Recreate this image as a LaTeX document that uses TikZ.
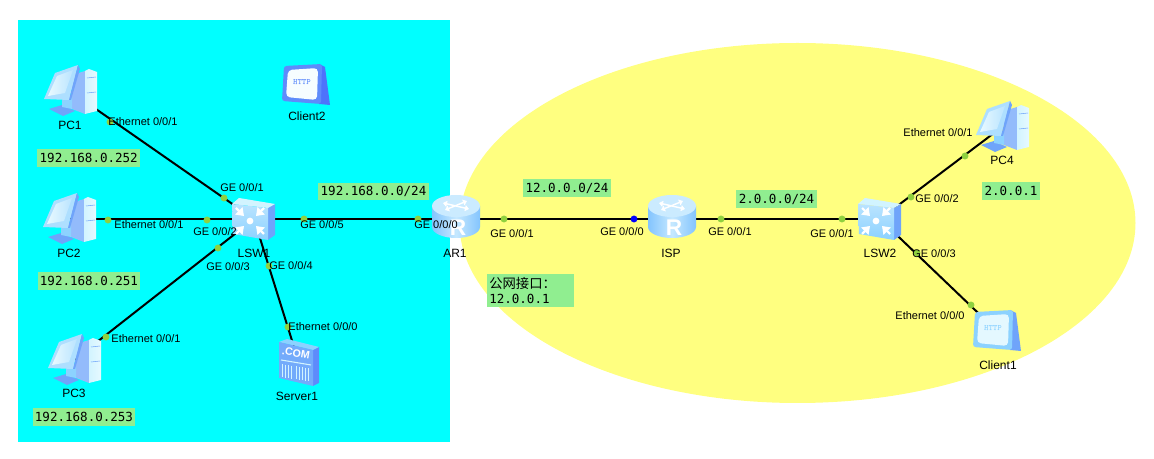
\documentclass[tikz,border=0pt]{standalone}
\usepackage{fontspec}
\setmainfont{Liberation Sans}
\newfontfamily\notefont{DejaVu Sans Mono}
\newfontfamily\cjkfont{Noto Sans CJK SC}
\usepackage{xcolor}
\usetikzlibrary{arrows.meta, positioning, calc, shapes}

\definecolor{lanblue}{HTML}{00FFFF}
\definecolor{wanyellow}{HTML}{FFFF80}
\definecolor{notegreen}{HTML}{90EE90}
\definecolor{portgreen}{HTML}{8FD13F}
\definecolor{iconlight}{HTML}{D2F4FF}
\definecolor{iconmid}{HTML}{8CD2FF}
\definecolor{icondark}{HTML}{6FA4FA}

\tikzset{
	device/.style={inner sep=0pt, minimum size=1pt},
	link/.style={line width=1.5pt, black},
	port/.style={circle, fill=portgreen, inner sep=0pt, minimum size=5.2pt},
	portblue/.style={circle, fill=blue, inner sep=0pt, minimum size=5.2pt},
	lbl/.style={inner sep=0pt, font=\fontsize{8.25}{10}\selectfont},
	namelbl/.style={inner sep=0pt, font=\fontsize{9}{11}\selectfont},
	note/.style={fill=notegreen, inner sep=0pt, font=\notefont\fontsize{9.4}{11}\selectfont},
	% Computer with tower
	pics/pcicon/.style={code={
		\fill[icondark!75!white] (2,-16) -- (15,-20) -- (15,23) -- (2,18) -- cycle;
		\shade[left color=iconlight, right color=iconlight!55!white] (15,-20) -- (19,-22) -- (27,-19) -- (27,20) -- (15,23) -- cycle;
		\draw[icondark, thin] (17,-13) -- (26,-14) (17,2) -- (26,1);
		\fill[icondark] (-21,18) -- (-8,14) -- (5,20) -- (-7,25) -- cycle;
		\fill[iconmid] (-8,6) -- (2,6) -- (2,18) -- (-8,16) -- cycle;
		\fill[iconmid!70!white] (-26,8) -- (-15,-18) -- (8,-26) -- (-1,9) -- cycle;
		\fill[icondark] (8,-26) -- (10,-22) -- (1,9) -- (-1,9) -- cycle;
		\shade[left color=iconlight!50!white, right color=iconmid!60!white] (-22,5) -- (-13,-15) -- (3,-21) -- (-5,2) -- cycle;
	}},
	% Switch with four arrows
	pics/switchicon/.style={code={
		\fill[icondark] (14,-11) -- (21,-15) -- (21,16) -- (14,21) -- cycle;
		\fill[iconlight] (-22,-15) -- (-15,-21) -- (21,-15) -- (14,-11) -- cycle;
		\shade[top color=iconmid!60!white, bottom color=iconmid] (-22,-15) -- (14,-11) -- (14,21) -- (-21,15) -- cycle;
		\foreach \sx/\sy in {-1/-1, 1/-1, -1/1, 1/1}
			\draw[white, line width=1.6pt, -{Triangle[length=5.5pt,width=7.5pt]}]
				({-4+\sx*14},{2+\sy*13}) -- ({-4+\sx*6},{2+\sy*5});
		\fill[white] (-4,2) circle [radius=3.4];
	}},
	% Router drum
	pics/routericon/.style={code={
		\shade[left color=iconmid!70!icondark, right color=iconmid!70!icondark, middle color=iconmid!50!white]
			(-24,-13) -- (-24,8) arc[start angle=180, end angle=0, x radius=24, y radius=11] -- (24,-13) -- cycle;
		\fill[iconmid!45!white] (0,-13) ellipse [x radius=24, y radius=11];
		\draw[white, line width=1.1pt, {Triangle[length=3pt,width=4.5pt]}-{Triangle[length=3pt,width=4.5pt]}] (-13,-16) -- (13,-10);
		\draw[white, line width=1.1pt, {Triangle[length=3pt,width=4.5pt]}-{Triangle[length=3pt,width=4.5pt]}] (-11,-9) -- (11,-18);
		\node[white, inner sep=0pt, font=\bfseries\fontsize{17}{17}\selectfont] at (2,9) {R};
	}},
	% Web client card: frame, face, side and text colour
	pics/clienticon/.style n args={4}{code={
		\fill[#3] (13,-21) -- (19,-18) -- (24,20) -- (13,19) -- cycle;
		\fill[#1, rounded corners=2pt] (-22,-19) -- (16,-21) -- (15,19) -- (-24,16) -- cycle;
		\fill[#2, rounded corners=3pt] (-18,-15) -- (12,-17) -- (11,15) -- (-20,12) -- cycle;
		\node[#4, inner sep=0pt, rotate=-2, font=\ttfamily\bfseries\fontsize{6.2}{6.2}\selectfont] at (-4,-3) {HTTP};
	}},
	% Web server box
	pics/servericon/.style={code={
		\fill[icondark!85!blue] (14,-13) -- (20,-16) -- (20,20) -- (14,23) -- cycle;
		\fill[iconmid] (-20,-21) -- (-12,-24) -- (20,-16) -- (14,-13) -- cycle;
		\fill[icondark!85!iconmid] (-20,-21) -- (14,-13) -- (14,23) -- (-20,15) -- cycle;
		\node[white, inner sep=0pt, rotate=-10, font=\bfseries\fontsize{8}{8}\selectfont] at (-3,-10) {.COM};
		\draw[iconlight, thick] (-18,-3) -- (12,2);
		\foreach \sx in {-17,-14,-11,-8,-3,0,3,6,9}
			\draw[iconlight, thin] (\sx,{1+(\sx+17)*0.17}) -- (\sx,{14+(\sx+17)*0.17});
	}},
}

\begin{document}
\begin{tikzpicture}[x=0.75pt, y=-0.75pt]
	\useasboundingbox (0,0) rectangle (1154,459);
	
	% Areas
	\fill[wanyellow] (797.5,223) ellipse [x radius=338, y radius=180];
	\fill[lanblue] (18,20) rectangle (450,442);
	
	% Devices
	\node[device] (PC1) at (70,91) {};
	\node[device] (PC2) at (69,219) {};
	\node[device] (PC3) at (74,360) {};
	\node[device] (PC4) at (1002,127) {};
	\node[device] (LSW1) at (254,219) {};
	\node[device] (LSW2) at (880,219) {};
	\node[device] (AR1) at (456,219) {};
	\node[device] (ISP) at (672,219) {};
	\node[device] (Server1) at (299,363) {};
	\node[device] (Client1) at (997,331) {};
	\node[device] (Client2) at (306,85) {};
	
	% Links
	\draw[link] (PC1) -- (LSW1);
	\draw[link] (PC2) -- (LSW1);
	\draw[link] (PC3) -- (LSW1);
	\draw[link] (Server1) -- (LSW1);
	\draw[link] (LSW1) -- (AR1);
	\draw[link] (AR1) -- (ISP);
	\draw[link] (ISP) -- (LSW2);
	\draw[link] (LSW2) -- (PC4);
	\draw[link] (LSW2) -- (Client1);
	
	% Icons
	\pic at (PC1) {pcicon};
	\pic at (PC2) {pcicon};
	\pic at (PC3) {pcicon};
	\pic at (PC4) {pcicon};
	\pic at (LSW1) {switchicon};
	\pic at (LSW2) {switchicon};
	\pic at (AR1) {routericon};
	\pic at (ISP) {routericon};
	\pic at (Server1) {servericon};
	\pic at (Client1) {clienticon={iconmid}{iconlight!60!white}{icondark}{iconmid}};
	\pic at (Client2) {clienticon={icondark!85!blue}{iconlight!20!white}{icondark!70!blue}{icondark!85!blue}};
	
	% Device names
	\node[namelbl] (namePC1) at (70,125) {PC1};
	\node[namelbl] (namePC2) at (69,253) {PC2};
	\node[namelbl] (namePC3) at (74,393) {PC3};
	\node[namelbl] (namePC4) at (1002,160) {PC4};
	\node[namelbl] (nameLSW1) at (254,253) {LSW1};
	\node[namelbl] (nameLSW2) at (880,253) {LSW2};
	\node[namelbl] (nameAR1) at (455,253) {AR1};
	\node[namelbl] (nameISP) at (671,253) {ISP};
	\node[namelbl] (nameServer1) at (297,396) {Server1};
	\node[namelbl] (nameClient1) at (998,365) {Client1};
	\node[namelbl] (nameClient2) at (307,116) {Client2};
	
	% Port dots
	\node[port] (dotA) at (110,122) {};
	\node[port] (dotB) at (224,198) {};
	\node[port] (dotC) at (108,220) {};
	\node[port] (dotD) at (207,220) {};
	\node[port] (dotE) at (218,248) {};
	\node[port] (dotF) at (106,337) {};
	\node[port] (dotG) at (269,266) {};
	\node[port] (dotH) at (288,327) {};
	\node[port] (dotI) at (304,219) {};
	\node[port] (dotJ) at (418,219) {};
	\node[port] (dotK) at (504,219) {};
	\node[portblue] (dotL) at (634,219) {};
	\node[port] (dotM) at (721,219) {};
	\node[port] (dotN) at (842,219) {};
	\node[port] (dotO) at (911,197) {};
	\node[port] (dotP) at (965,156) {};
	\node[port] (dotQ) at (917,253) {};
	\node[port] (dotR) at (971,305) {};
	
	% Port labels
	\node[lbl] (ethA) at (143,122) {Ethernet 0/0/1};
	\node[lbl] (geA) at (242,188) {GE 0/0/1};
	\node[lbl] (ethB) at (149,225) {Ethernet 0/0/1};
	\node[lbl] (geB) at (215,232) {GE 0/0/2};
	\node[lbl] (geC) at (228,267) {GE 0/0/3};
	\node[lbl] (ethC) at (146,339) {Ethernet 0/0/1};
	\node[lbl] (geD) at (291,266) {GE 0/0/4};
	\node[lbl] (ethD) at (323,327) {Ethernet 0/0/0};
	\node[lbl] (geE) at (322,225) {GE 0/0/5};
	\node[lbl] (geF) at (436,225) {GE 0/0/0};
	\node[lbl] (geG) at (512,234) {GE 0/0/1};
	\node[lbl] (geH) at (622,232) {GE 0/0/0};
	\node[lbl] (geI) at (730,232) {GE 0/0/1};
	\node[lbl] (geJ) at (832,234) {GE 0/0/1};
	\node[lbl] (geK) at (937,199) {GE 0/0/2};
	\node[lbl] (ethE) at (938,133) {Ethernet 0/0/1};
	\node[lbl] (geL) at (934,254) {GE 0/0/3};
	\node[lbl] (ethF) at (930,316) {Ethernet 0/0/0};
	
	% Address notes
	\node[note, minimum width=77pt, minimum height=13.5pt] (noteA) at (88.75,158) {192.168.0.252};
	\node[note, minimum width=77pt, minimum height=13.5pt] (noteB) at (89,281) {192.168.0.251};
	\node[note, minimum width=77pt, minimum height=13.5pt] (noteC) at (84,417) {192.168.0.253};
	\node[note, minimum width=83pt, minimum height=13pt] (noteD) at (373.5,191.5) {192.168.0.0/24};
	\node[note, minimum width=66pt, minimum height=13.5pt] (noteE) at (567,188) {12.0.0.0/24};
	\node[note, minimum width=60.5pt, minimum height=13.5pt] (noteF) at (776.5,199) {2.0.0.0/24};
	\node[note, minimum width=43.5pt, minimum height=13.5pt] (noteG) at (1011,191) {2.0.0.1};
	\node[note, align=left, anchor=north west, text width=62pt, inner xsep=1.5pt, inner ysep=0.5pt, minimum height=24.75pt] (noteH) at (487,274)
		{{\cjkfont\fontsize{10}{12}\selectfont 公网接口：}\\12.0.0.1};
\end{tikzpicture}
\end{document}
